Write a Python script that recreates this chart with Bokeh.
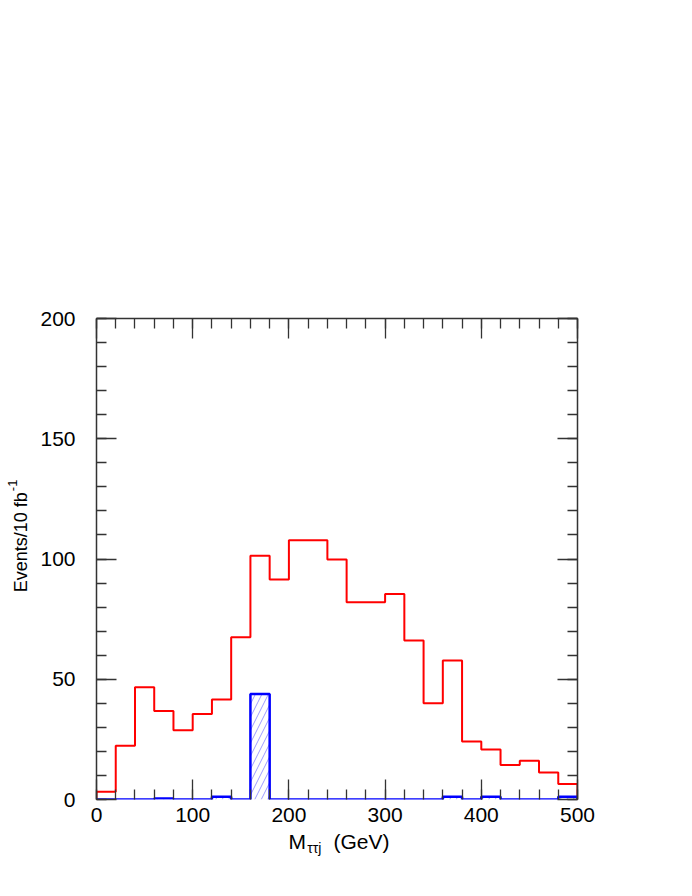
import math
from bokeh.plotting import figure
from bokeh.models import Range1d, FixedTicker, LinearAxis, Label, ColumnDataSource
from bokeh.embed import file_html
from bokeh.resources import INLINE

# ---- data (bins of 20 GeV) ----
bin_lo = [0, 20, 40, 60, 80, 100, 120, 140, 160, 180, 200, 220, 240,
          260, 280, 300, 320, 340, 360, 380, 400, 420, 440, 460, 480]
bin_hi = [20, 40, 60, 80, 100, 120, 140, 160, 180, 200, 220, 240, 260,
          280, 300, 320, 340, 360, 380, 400, 420, 440, 460, 480, 500]
red_vals = [3.2, 22.3, 46.7, 36.8, 28.8, 35.5, 41.6, 67.5, 101.4, 91.5, 107.8, 107.8, 99.8,
            82.0, 82.0, 85.4, 66.1, 40.0, 57.8, 24.1, 20.8, 14.3, 16.1, 11.2, 6.4]
blue_vals = [0, 0, 0, 0.4, 0, 0, 1.1, 0, 43.9, 0, 0, 0, 0,
             0, 0, 0, 0, 0, 1.1, 0, 1.1, 0, 0, 0, 1.1]
x_major = [0, 100, 200, 300, 400, 500]
x_minor = [0, 20, 40, 60, 80, 100, 120, 140, 160, 180, 200, 220, 240, 260, 280, 300,
           320, 340, 360, 380, 400, 420, 440, 460, 480, 500]
y_major = [0, 50, 100, 150, 200]
y_minor = [0, 10, 20, 30, 40, 50, 60, 70, 80, 90, 100, 110, 120, 130, 140, 150,
           160, 170, 180, 190, 200]


def step_xy(lo, hi, vals):
    xs, ys = [lo[0]], [0]
    for a, b, v in zip(lo, hi, vals):
        xs += [a, b]
        ys += [v, v]
    xs.append(hi[-1])
    ys.append(0)
    return xs, ys


FONT = "Liberation Sans"
AX = "#333333"

p = figure(frame_width=481, frame_height=481,
           min_border_left=96, min_border_top=318, min_border_right=100, min_border_bottom=75,
           x_range=Range1d(0, 500), y_range=Range1d(0, 200),
           output_backend="svg", toolbar_location=None, tools="",
           x_axis_location=None, y_axis_location=None)
p.grid.visible = False
p.outline_line_color = None
p.background_fill_color = "white"
p.border_fill_color = "white"


def style_axis(ax, major, minor, show_labels, standoff, line=True):
    ax.ticker = FixedTicker(ticks=major, minor_ticks=minor)
    ax.major_tick_in = 20
    ax.major_tick_out = 0
    ax.minor_tick_in = 10
    ax.minor_tick_out = 0
    ax.major_tick_line_color = AX
    ax.minor_tick_line_color = AX
    ax.major_tick_line_width = 1.3
    ax.minor_tick_line_width = 1.3
    ax.axis_line_color = AX if line else None
    ax.axis_line_width = 1.5
    ax.major_label_text_font = FONT
    ax.major_label_text_font_size = "21px"
    ax.major_label_text_color = "black"
    ax.major_label_standoff = standoff
    if not show_labels:
        ax.major_label_overrides = {t: "" for t in major}


bx = LinearAxis()
style_axis(bx, x_major, x_minor, True, 8, line=False)
p.add_layout(bx, "below")
tx = LinearAxis()
style_axis(tx, x_major, x_minor, False, 2)
p.add_layout(tx, "above")
ly = LinearAxis()
style_axis(ly, y_major, y_minor, True, 21)
p.add_layout(ly, "left")
ry = LinearAxis()
style_axis(ry, y_major, y_minor, False, 2)
p.add_layout(ry, "right")

# red histogram
rx, ryv = step_xy(bin_lo, bin_hi, red_vals)
p.line(rx, ryv, line_color="#ff0000", line_width=2)

# blue hatched histogram
src = ColumnDataSource(dict(left=bin_lo, right=bin_hi, top=blue_vals, bottom=[0] * len(bin_lo)))
p.quad(left="left", right="right", top="top", bottom="bottom", source=src,
       fill_color=None, line_color=None,
       hatch_pattern="/", hatch_color="#7777ff", hatch_alpha=0.9,
       hatch_scale=13, hatch_weight=0.8)
bxs, bys = step_xy(bin_lo, bin_hi, blue_vals)
p.line(bxs, bys, line_color="#0000ff", line_width=2.5)


# axis titles (with sub/superscripts); placed in a side panel so they are not clipped
def lab(**kw):
    base = dict(text_font=FONT, text_align="left", text_baseline="middle", text_color="black")
    base.update(kw)
    p.add_layout(Label(**base), "above")


lab(x=199.5, y=-17.5, text="M", text_font_size="21px")
lab(x=219.0, y=-20.3, text="\u03c4\u03c4j", text_font_size="14px")
lab(x=246.4, y=-17.5, text="(GeV)", text_font_size="21px")
lab(x=-78.5, y=86.2, text="Events/10 fb", text_font_size="18px", angle=math.pi / 2)
lab(x=-87.3, y=128.2, text="-1", text_font_size="13px", angle=math.pi / 2)

open("out.html", "w").write(file_html(p, INLINE))
